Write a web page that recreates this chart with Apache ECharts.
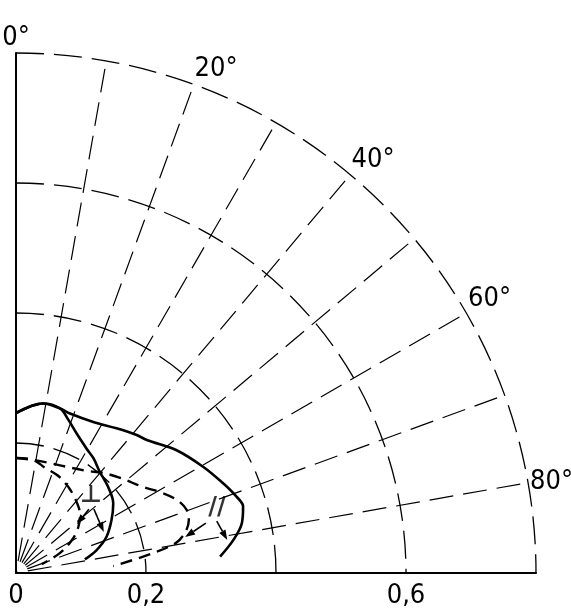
<!DOCTYPE html>
<html>
<head>
<meta charset="utf-8">
<style>
  html, body { margin: 0; padding: 0; background: #fff; }
  #chart { width: 571px; height: 609px; }
</style>
<script src="https://cdn.jsdelivr.net/npm/echarts@6/dist/echarts.min.js"></script>
</head>
<body>
<div id="chart"></div>
<script>
// Polar quarter plot: angle measured from the vertical (0°) clockwise to 90°,
// radial scale 0 … 0.8. Each point is [radius, angle in degrees].
const parallelSolid = [
  [0.246, 0], [0.264, 9.1], [0.262, 15.0], [0.259, 18.7], [0.261, 27.1],
  [0.271, 34.8], [0.282, 41.2], [0.287, 44.5], [0.311, 52.6], [0.331, 60.4],
  [0.347, 66.5], [0.359, 70.9], [0.364, 73.7], [0.356, 77.5], [0.338, 81.4],
  [0.315, 85.4]
];
const perpSolid = [
  [0.246, 0], [0.264, 9.1], [0.262, 15.0], [0.249, 18.9], [0.234, 23.5],
  [0.220, 29.6], [0.213, 34.0], [0.202, 39.7], [0.194, 46.9], [0.184, 54.4],
  [0.168, 61.0], [0.150, 68.2], [0.129, 74.1], [0.108, 78.8]
];
const parallelDashed = [
  [0.177, 0], [0.176, 8.6], [0.177, 17.2], [0.181, 25.5], [0.191, 34.6],
  [0.204, 41.0], [0.217, 47.6], [0.236, 55.9], [0.254, 60.6], [0.272, 65.6],
  [0.280, 69.8], [0.278, 73.0], [0.268, 76.4], [0.250, 79.4], [0.205, 82.2],
  [0.150, 85.9]
];
const perpDashed = [
  [0.177, 0], [0.176, 8.6], [0.168, 15.4], [0.163, 23.4], [0.155, 31.2],
  [0.145, 39.4], [0.133, 47.8], [0.118, 54.0], [0.100, 59.5], [0.074, 65.6],
  [0.042, 70.9]
];

// Pointer arrows: [tail radius, tail angle, head radius, head angle]
const pointerArrows = [
  [0.149, 48.8, 0.120, 51.3],
  [0.155, 50.6, 0.149, 65.0],
  [0.302, 75.3, 0.266, 78.0],
  [0.319, 75.5, 0.329, 81.1]
];
// Curve tags: [radius, angle, text]
const curveTags = [
  [0.166, 44.0, '\u22A5'],
  [0.325, 72.0, '//']
];

// Angular and radial tick labels
const angleTicks = [0, 20, 40, 60, 80];
const radialTickLabels = { '0': '0', '0.2': '0,2', '0.6': '0,6' };

const FONT = '"DejaVu Sans", sans-serif';
// narrow letterforms through the font-stretch keyword of the canvas font string
const STRETCH = 'condensed';
const CX = 16, CY = 573, R = 520;

const chart = echarts.init(document.getElementById('chart'), null, { renderer: 'canvas' });

function arrowItem(params, api) {
  const p0 = api.coord([api.value(0), api.value(1)]);
  const p1 = api.coord([api.value(2), api.value(3)]);
  const dx = p1[0] - p0[0], dy = p1[1] - p0[1];
  const len = Math.sqrt(dx * dx + dy * dy) || 1;
  const ux = dx / len, uy = dy / len;
  const head = 10, half = 3.5;
  const bx = p1[0] - ux * head, by = p1[1] - uy * head;
  return {
    type: 'group',
    children: [
      { type: 'line', shape: { x1: p0[0], y1: p0[1], x2: bx, y2: by },
        style: { stroke: '#000', lineWidth: 1.6 } },
      { type: 'polygon',
        shape: { points: [[p1[0], p1[1]], [bx - uy * half, by + ux * half], [bx + uy * half, by - ux * half]] },
        style: { fill: '#000' } }
    ]
  };
}

function curve(data, dashed) {
  return {
    type: 'line',
    coordinateSystem: 'polar',
    data: data,
    smooth: 0.35,
    symbol: 'none',
    z: 5,
    lineStyle: { color: '#000', width: dashed ? 2.4 : 2.6, type: dashed ? [12, 7] : 'solid' }
  };
}

chart.setOption({
  backgroundColor: '#fff',
  animation: false,
  polar: { center: [CX, CY], radius: R },
  angleAxis: {
    type: 'value',
    min: 0, max: 90, interval: 10,
    startAngle: 90, endAngle: 0, clockwise: true,
    axisLine: { show: false },
    axisTick: { show: false },
    splitLine: { show: true, lineStyle: { color: '#000', width: 1.2, type: [24, 10], dashOffset: 26 } },
    axisLabel: {
      show: true, margin: 2, color: '#000', fontFamily: FONT, fontStyle: STRETCH, fontSize: 27,
      formatter: v => angleTicks.indexOf(v) >= 0 ? v + '°' : ''
    }
  },
  radiusAxis: {
    type: 'value',
    min: 0, max: 0.8, interval: 0.2,
    axisLine: { show: true, lineStyle: { color: '#000', width: 2 } },
    axisTick: { show: false },
    axisLabel: { show: false },
    splitLine: { show: true, lineStyle: { color: '#000', width: 1.3, type: [28, 10] } }
  },
  grid: { left: CX, top: CY - R, width: R, height: R },
  xAxis: {
    type: 'value', min: 0, max: 0.8, interval: 0.2,
    axisLine: { show: true, lineStyle: { color: '#000', width: 2 } },
    axisTick: { show: false },
    splitLine: { show: false },
    axisLabel: {
      margin: 9, color: '#000', fontFamily: FONT, fontStyle: STRETCH, fontSize: 27,
      showMaxLabel: true, showMinLabel: true,
      formatter: v => radialTickLabels[String(Math.round(v * 10) / 10)] || ''
    }
  },
  yAxis: { type: 'value', min: 0, max: 1, show: false },
  series: [
    curve(parallelSolid, false),
    curve(perpSolid, false),
    curve(parallelDashed, true),
    curve(perpDashed, true),
    {
      type: 'custom',
      coordinateSystem: 'polar',
      data: pointerArrows,
      renderItem: arrowItem,
      z: 6
    },
    {
      type: 'scatter',
      coordinateSystem: 'polar',
      data: curveTags,
      symbolSize: 0,
      z: 7,
      label: {
        show: true, position: 'inside', color: '#000',
        fontFamily: FONT, fontSize: 24, fontWeight: 'bold',
        formatter: p => p.data[2]
      }
    }
  ]
});
</script>
</body>
</html>
